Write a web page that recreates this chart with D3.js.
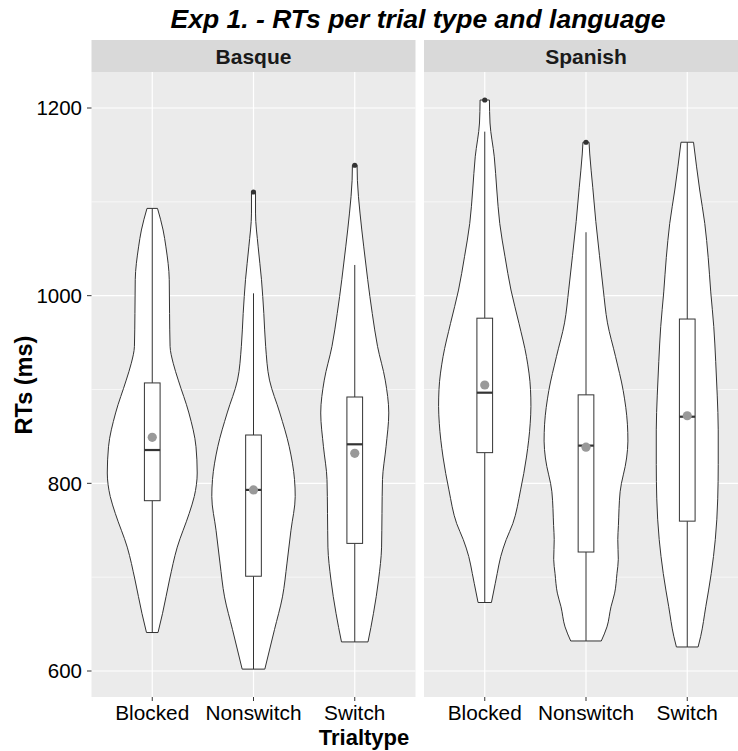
<!DOCTYPE html>
<html>
<head>
<meta charset="utf-8">
<script src="https://cdn.jsdelivr.net/npm/d3@7"></script>
<style>
  html, body { margin: 0; padding: 0; background: #fff; }
  svg { display: block; font-family: "Liberation Sans", Arial, sans-serif; }
</style>
</head>
<body>
<svg id="chart" width="738" height="751"></svg>
<script>
// ---------------- data ----------------
const languages = ["Basque", "Spanish"];
const trialtypes = ["Blocked", "Nonswitch", "Switch"];
const yMajorTicks = [600, 800, 1000, 1200];
const yMinorTicks = [700, 900, 1100];

// violin outlines: [RT (ms), half width as fraction of category spacing]
const violinBasqueBlocked = [[641,0.057],[661.5,0.102],[697,0.170],[732,0.247],[768,0.365],[786,0.415],[811,0.444],[839,0.432],[875,0.362],[910,0.257],[928,0.207],[946,0.176],[981,0.171],[1017,0.168],[1052,0.135],[1070,0.107],[1093,0.052]];
const violinBasqueNonswitch = [[602,0.112],[644,0.207],[679,0.286],[715,0.331],[750,0.370],[786,0.412],[804,0.405],[839,0.353],[875,0.260],[910,0.158],[946,0.120],[981,0.102],[1017,0.079],[1052,0.046],[1088,0.020],[1110,0.020]];
const violinBasqueSwitch = [[631,0.131],[661.5,0.185],[697,0.235],[732,0.265],[768,0.269],[804,0.274],[839,0.309],[875,0.336],[910,0.301],[946,0.225],[981,0.173],[1017,0.128],[1052,0.089],[1088,0.052],[1123,0.026],[1139,0.023]];
const violinSpanishBlocked = [[673,0.066],[693.5,0.104],[704,0.123],[722,0.158],[740,0.212],[757,0.277],[793,0.354],[828,0.412],[864,0.449],[882,0.456],[900,0.452],[935,0.412],[970.5,0.338],[1006,0.259],[1041.5,0.200],[1077,0.148],[1112.6,0.119],[1148,0.094],[1184,0.052],[1208.5,0.046]];
const violinSpanishNonswitch = [[632,0.151],[647,0.207],[668.5,0.247],[683,0.283],[704,0.306],[719,0.319],[740,0.314],[755,0.320],[791,0.337],[827,0.401],[845,0.414],[863,0.409],[899,0.367],[935,0.292],[971,0.212],[1007,0.170],[1043,0.133],[1079,0.097],[1115,0.067],[1151,0.037],[1163.5,0.030]];
const violinSpanishSwitch = [[625.6,0.107],[637,0.133],[668.5,0.183],[704,0.237],[740,0.277],[783.5,0.301],[820,0.306],[857,0.306],[894,0.296],[930,0.281],[967,0.262],[1004,0.232],[1040.5,0.207],[1077,0.173],[1112.6,0.123],[1163.5,0.062]];

// box plot statistics, order: Basque B/N/S, Spanish B/N/S
const boxLanguage  = ["Basque","Basque","Basque","Spanish","Spanish","Spanish"];
const boxTrialtype = ["Blocked","Nonswitch","Switch","Blocked","Nonswitch","Switch"];
const whiskerLow  = [641, 602, 631, 673, 632, 625.6];
const q1s         = [781.5, 701, 736, 832.7, 726.8, 759.7];
const medians     = [835.5, 793, 841.6, 896.6, 840.2, 871];
const q3s         = [907, 851.5, 892, 976, 894.3, 975.1];
const whiskerHigh = [1093, 1002.5, 1032.7, 1174.8, 1067.6, 1163.5];
const means       = [849, 793, 832, 904.8, 838.5, 872];
const outliers    = [[], [1110.5], [1139], [1208.5], [1163.5], []];

const violins = {
  "Basque|Blocked": violinBasqueBlocked,
  "Basque|Nonswitch": violinBasqueNonswitch,
  "Basque|Switch": violinBasqueSwitch,
  "Spanish|Blocked": violinSpanishBlocked,
  "Spanish|Nonswitch": violinSpanishNonswitch,
  "Spanish|Switch": violinSpanishSwitch
};

// ---------------- layout ----------------
const svg = d3.select("#chart");
const panelTop = 72, panelBottom = 697, stripTop = 40;
const panelWidth = 324, panelGap = 8.5, panelLeft = 91.5;
const boxWidthFrac = 0.155;

const y = d3.scaleLinear().domain([600, 1200]).range([671, 108]);
const facet = d3.scaleOrdinal().domain(languages).range([panelLeft, panelLeft + panelWidth + panelGap]);

svg.append("defs").append("clipPath").attr("id", "clipall")
  .append("rect").attr("x", 0).attr("y", 0).attr("width", 738).attr("height", 751);

languages.forEach(lang => {
  const x0 = facet(lang);
  const x = d3.scalePoint().domain(trialtypes).range([x0, x0 + panelWidth]).padding(0.6);
  const step = x.step();
  const g = svg.append("g").attr("clip-path", "url(#clipall)");

  // panel background
  g.append("rect").attr("x", x0).attr("y", panelTop).attr("width", panelWidth)
    .attr("height", panelBottom - panelTop).attr("fill", "#EBEBEB");
  // minor grid
  g.selectAll(null).data(yMinorTicks).join("line")
    .attr("x1", x0).attr("x2", x0 + panelWidth)
    .attr("y1", d => y(d)).attr("y2", d => y(d))
    .attr("stroke", "#fff").attr("stroke-width", 0.6);
  // major grid
  g.selectAll(null).data(yMajorTicks).join("line")
    .attr("x1", x0).attr("x2", x0 + panelWidth)
    .attr("y1", d => y(d)).attr("y2", d => y(d))
    .attr("stroke", "#fff").attr("stroke-width", 1.2);
  g.selectAll(null).data(trialtypes).join("line")
    .attr("x1", d => x(d)).attr("x2", d => x(d))
    .attr("y1", panelTop).attr("y2", panelBottom)
    .attr("stroke", "#fff").attr("stroke-width", 1.2);

  // strip
  g.append("rect").attr("x", x0).attr("y", stripTop).attr("width", panelWidth)
    .attr("height", panelTop - stripTop).attr("fill", "#D9D9D9");
  g.append("text").attr("x", x0 + panelWidth / 2).attr("y", 64)
    .attr("text-anchor", "middle").attr("font-weight", "bold").attr("font-size", 21)
    .attr("fill", "#1a1a1a").text(lang);

  // violins
  trialtypes.forEach(t => {
    const prof = violins[lang + "|" + t];
    const cx = x(t);
    const area = d3.area()
      .y(d => y(d[0]))
      .x0(d => cx - d[1] * step)
      .x1(d => cx + d[1] * step)
      .curve(d3.curveMonotoneY);
    g.append("path").datum(prof).attr("d", area)
      .attr("fill", "#fff").attr("stroke", "#333").attr("stroke-width", 1);
  });

  // boxplots
  boxLanguage.forEach((l, i) => {
    if (l !== lang) return;
    const cx = x(boxTrialtype[i]);
    const bw = boxWidthFrac * step;
    g.append("line").attr("x1", cx).attr("x2", cx)
      .attr("y1", y(q3s[i])).attr("y2", y(whiskerHigh[i]))
      .attr("stroke", "#333").attr("stroke-width", 1);
    g.append("line").attr("x1", cx).attr("x2", cx)
      .attr("y1", y(q1s[i])).attr("y2", y(whiskerLow[i]))
      .attr("stroke", "#333").attr("stroke-width", 1);
    g.append("rect").attr("x", cx - bw / 2).attr("y", y(q3s[i]))
      .attr("width", bw).attr("height", y(q1s[i]) - y(q3s[i]))
      .attr("fill", "#fff").attr("stroke", "#333").attr("stroke-width", 1);
    g.append("line").attr("x1", cx - bw / 2).attr("x2", cx + bw / 2)
      .attr("y1", y(medians[i])).attr("y2", y(medians[i]))
      .attr("stroke", "#333").attr("stroke-width", 2.2);
    g.selectAll(null).data(outliers[i]).join("circle")
      .attr("cx", cx).attr("cy", d => y(d)).attr("r", 2.6).attr("fill", "#333");
    g.append("circle").attr("cx", cx).attr("cy", y(means[i])).attr("r", 4.6)
      .attr("fill", "#999999");
  });

  // x axis ticks and labels
  g.selectAll(null).data(trialtypes).join("line")
    .attr("x1", d => x(d)).attr("x2", d => x(d))
    .attr("y1", panelBottom).attr("y2", panelBottom + 4)
    .attr("stroke", "#333").attr("stroke-width", 1);
  g.selectAll(null).data(trialtypes).join("text")
    .attr("x", d => x(d)).attr("y", 719.5)
    .attr("text-anchor", "middle").attr("font-size", 20.8).attr("fill", "#000")
    .text(d => d);
});

// y axis
const yAxisG = svg.append("g");
yAxisG.selectAll(null).data(yMajorTicks).join("line")
  .attr("x1", panelLeft - 4.5).attr("x2", panelLeft)
  .attr("y1", d => y(d)).attr("y2", d => y(d))
  .attr("stroke", "#333").attr("stroke-width", 1);
yAxisG.selectAll(null).data(yMajorTicks).join("text")
  .attr("x", panelLeft - 9.5).attr("y", d => y(d)).attr("dy", "0.36em")
  .attr("text-anchor", "end").attr("font-size", 20.5).attr("fill", "#000")
  .text(d => d);

// titles
svg.append("text").attr("x", 418).attr("y", 28).attr("text-anchor", "middle")
  .attr("font-size", 26.5).attr("font-weight", "bold").attr("font-style", "italic")
  .attr("fill", "#000").text("Exp 1. - RTs per trial type and language");
svg.append("text").attr("x", 364).attr("y", 744.5).attr("text-anchor", "middle")
  .attr("font-size", 22).attr("font-weight", "bold").attr("fill", "#000").text("Trialtype");
svg.append("text").attr("transform", "translate(32,385) rotate(-90)")
  .attr("text-anchor", "middle").attr("font-size", 23.5).attr("font-weight", "bold")
  .attr("fill", "#000").text("RTs (ms)");
</script>
</body>
</html>
